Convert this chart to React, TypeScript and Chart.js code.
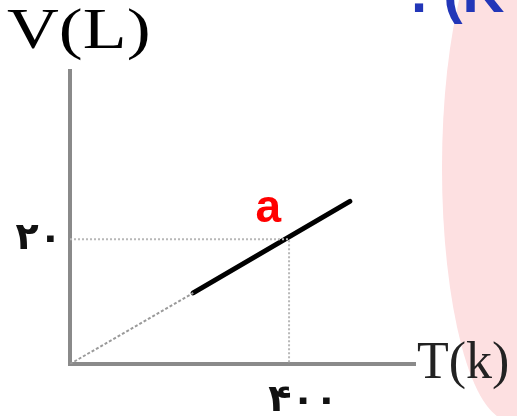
import React, { useEffect, useRef } from "react";
import { Chart, registerables } from "chart.js";

Chart.register(...registerables);

// ---- data ----
const originSegment = [
  { x: 0, y: 0 },
  { x: 225, y: 11.4 },
];
const solidSegment = [
  { x: 225, y: 11.4 },
  { x: 511, y: 26.1 },
];
const guidePoints = [
  { x: 0, y: 20 },
  { x: 400, y: 20 },
  { x: 400, y: 0 },
];
const xTickValues = [400];
const xTickLabels = ["۴۰۰"];
const yTickValues = [20];
const yTickLabels = ["۲۰"];
const xTitle = "T(k)";
const yTitle = "V(L)";
const lineLabel = { text: "a", x: 362, y: 22.8 };
const headerText = ". (K";

const decorPlugin = {
  id: "decor",
  beforeDraw(chart: any) {
    const ctx = chart.ctx;
    ctx.save();
    ctx.fillStyle = "#ffffff";
    ctx.fillRect(0, 0, chart.width, chart.height);
    ctx.fillStyle = "#fde0e1";
    ctx.beginPath();
    ctx.ellipse(509, 168, 67, 252, 0, 0, Math.PI * 2);
    ctx.fill();
    ctx.restore();
  },
  afterDraw(chart: any) {
    const ctx = chart.ctx;
    const xs = chart.scales.x;
    const ys = chart.scales.y;
    ctx.save();
    // y title
    ctx.fillStyle = "#000000";
    ctx.textBaseline = "alphabetic";
    ctx.textAlign = "left";
    ctx.save();
    ctx.translate(7, 48);
    ctx.scale(1.26, 1);
    ctx.font = "57px 'Liberation Serif', serif";
    ctx.fillText(yTitle, 0, 0);
    ctx.restore();
    // x title
    ctx.fillStyle = "#222222";
    ctx.font = "52px 'Liberation Serif', serif";
    ctx.fillText(xTitle, chart.chartArea.right + 2, 378);
    // line label
    ctx.fillStyle = "#ff0000";
    ctx.font = "bold 46px 'Liberation Sans', Arial, sans-serif";
    ctx.textAlign = "center";
    ctx.fillText(lineLabel.text, xs.getPixelForValue(lineLabel.x), ys.getPixelForValue(lineLabel.y));
    // header fragment
    ctx.fillStyle = "#2236b8";
    ctx.textAlign = "left";
    ctx.font = "bold 58px 'Liberation Sans', Arial, sans-serif";
    ctx.fillText(headerText, 411, 12);
    ctx.restore();
  },
};

export default function App() {
  const ref = useRef<HTMLCanvasElement | null>(null);
  useEffect(() => {
    if (!ref.current) return;
    const chart = new Chart(ref.current, {
      type: "scatter",
      data: {
        datasets: [
          {
            data: guidePoints,
            showLine: true,
            borderColor: "#b8b8b8",
            borderWidth: 2,
            borderDash: [2, 2],
            pointRadius: 0,
          },
          {
            data: originSegment,
            showLine: true,
            borderColor: "#9a9a9a",
            borderWidth: 2,
            borderDash: [3, 2],
            pointRadius: 0,
          },
          {
            data: solidSegment,
            showLine: true,
            borderColor: "#000000",
            borderWidth: 5,
            borderCapStyle: "round",
            pointRadius: 0,
          },
        ],
      },
      options: {
        animation: false,
        responsive: false,
        devicePixelRatio: 1,
        layout: { padding: { left: 0, top: 71, right: 102, bottom: 0 } },
        plugins: {
          legend: { display: false },
          tooltip: { enabled: false },
        },
        scales: {
          x: {
            type: "linear",
            min: 0,
            max: 630,
            afterFit: (s: any) => {
              s.height = 52;
            },
            afterBuildTicks: (s: any) => {
              s.ticks = xTickValues.map((v) => ({ value: v }));
            },
            grid: { display: false, drawTicks: false },
            border: { display: true, color: "#8a8a8a", width: 4 },
            ticks: {
              padding: 14,
              labelOffset: 14,
              color: "#111111",
              font: { family: "'DejaVu Sans'", size: 38, weight: "bold" },
              callback: (v: any) => {
                const i = xTickValues.indexOf(Number(v));
                return i >= 0 ? xTickLabels[i] : "";
              },
            },
          },
          y: {
            type: "linear",
            min: 0,
            max: 47,
            afterFit: (s: any) => {
              s.width = 70;
            },
            afterBuildTicks: (s: any) => {
              s.ticks = yTickValues.map((v) => ({ value: v }));
            },
            grid: { display: false, drawTicks: false },
            border: { display: true, color: "#8a8a8a", width: 4 },
            ticks: {
              padding: 8,
              color: "#111111",
              font: { family: "'DejaVu Sans'", size: 38, weight: "bold" },
              callback: (v: any) => {
                const i = yTickValues.indexOf(Number(v));
                return i >= 0 ? yTickLabels[i] : "";
              },
            },
          },
        },
      },
      plugins: [decorPlugin],
    } as any);
    return () => chart.destroy();
  }, []);
  return (
    <div style={{ position: "absolute", left: 0, top: 0, width: 517, height: 416, overflow: "hidden" }}>
      <canvas ref={ref} width={517} height={416} />
    </div>
  );
}
